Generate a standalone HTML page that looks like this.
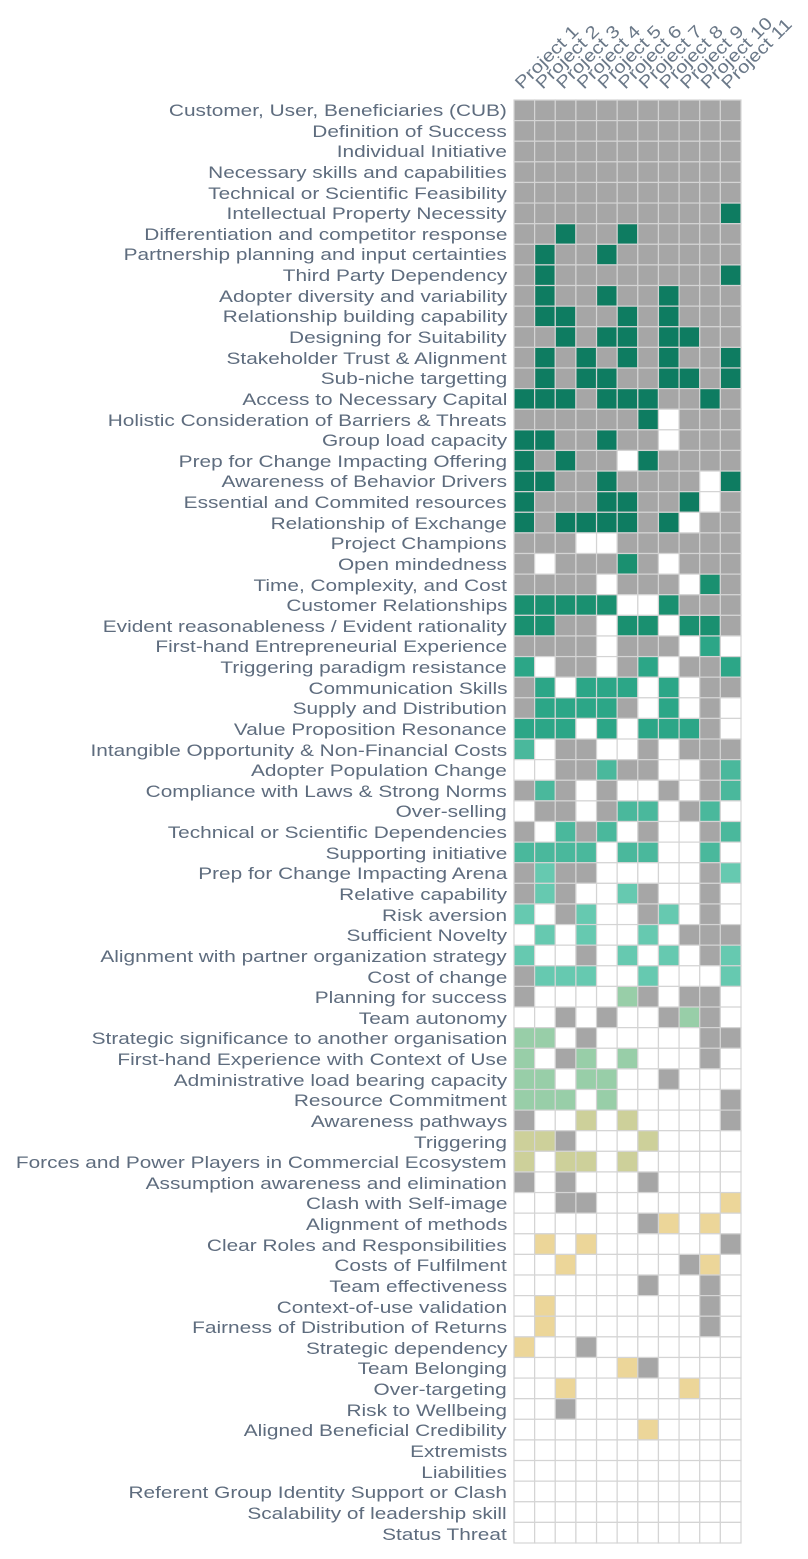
<!DOCTYPE html>
<html><head><meta charset="utf-8"><style>
html,body{margin:0;padding:0;background:#fff;}
body{width:808px;height:1559px;position:relative;overflow:hidden;font-family:"Liberation Sans",sans-serif;}
.lab{position:absolute;right:301px;height:20.63px;line-height:21.5px;font-size:17px;color:#5e6c7e;white-space:nowrap;transform:scaleX(1.225);transform-origin:right center;}
svg{position:absolute;left:0;top:0;}
</style></head><body>
<svg id="g" width="808" height="1559" xmlns="http://www.w3.org/2000/svg">
<g font-family="Liberation Sans, sans-serif" font-size="17.5" fill="#6a7888">
<text transform="translate(522,90) rotate(-45) scale(1.18,1)">Project 1</text>
<text transform="translate(542.6,90) rotate(-45) scale(1.18,1)">Project 2</text>
<text transform="translate(563.3,90) rotate(-45) scale(1.18,1)">Project 3</text>
<text transform="translate(583.9,90) rotate(-45) scale(1.18,1)">Project 4</text>
<text transform="translate(604.6,90) rotate(-45) scale(1.18,1)">Project 5</text>
<text transform="translate(625.2,90) rotate(-45) scale(1.18,1)">Project 6</text>
<text transform="translate(645.8,90) rotate(-45) scale(1.18,1)">Project 7</text>
<text transform="translate(666.5,90) rotate(-45) scale(1.18,1)">Project 8</text>
<text transform="translate(687.1,90) rotate(-45) scale(1.18,1)">Project 9</text>
<text transform="translate(707.8,90) rotate(-45) scale(1.18,1)">Project 10</text>
<text transform="translate(728.4,90) rotate(-45) scale(1.18,1)">Project 11</text>
</g>
<g id="cells"></g>
</svg>
<div id="labels">
<div class="lab" style="top:100px">Customer, User, Beneficiaries (CUB)</div>
<div class="lab" style="top:120.6px">Definition of Success</div>
<div class="lab" style="top:141.3px">Individual Initiative</div>
<div class="lab" style="top:161.9px">Necessary skills and capabilities</div>
<div class="lab" style="top:182.5px">Technical or Scientific Feasibility</div>
<div class="lab" style="top:203.2px">Intellectual Property Necessity</div>
<div class="lab" style="top:223.8px">Differentiation and competitor response</div>
<div class="lab" style="top:244.4px">Partnership planning and input certainties</div>
<div class="lab" style="top:265px">Third Party Dependency</div>
<div class="lab" style="top:285.7px">Adopter diversity and variability</div>
<div class="lab" style="top:306.3px">Relationship building capability</div>
<div class="lab" style="top:326.9px">Designing for Suitability</div>
<div class="lab" style="top:347.6px">Stakeholder Trust &amp; Alignment</div>
<div class="lab" style="top:368.2px">Sub-niche targetting</div>
<div class="lab" style="top:388.8px">Access to Necessary Capital</div>
<div class="lab" style="top:409.5px">Holistic Consideration of Barriers &amp; Threats</div>
<div class="lab" style="top:430.1px">Group load capacity</div>
<div class="lab" style="top:450.7px">Prep for Change Impacting Offering</div>
<div class="lab" style="top:471.3px">Awareness of Behavior Drivers</div>
<div class="lab" style="top:492px">Essential and Commited resources</div>
<div class="lab" style="top:512.6px">Relationship of Exchange</div>
<div class="lab" style="top:533.2px">Project Champions</div>
<div class="lab" style="top:553.9px">Open mindedness</div>
<div class="lab" style="top:574.5px">Time, Complexity, and Cost</div>
<div class="lab" style="top:595.1px">Customer Relationships</div>
<div class="lab" style="top:615.8px">Evident reasonableness / Evident rationality</div>
<div class="lab" style="top:636.4px">First-hand Entrepreneurial Experience</div>
<div class="lab" style="top:657px">Triggering paradigm resistance</div>
<div class="lab" style="top:677.6px">Communication Skills</div>
<div class="lab" style="top:698.3px">Supply and Distribution</div>
<div class="lab" style="top:718.9px">Value Proposition Resonance</div>
<div class="lab" style="top:739.5px">Intangible Opportunity &amp; Non-Financial Costs</div>
<div class="lab" style="top:760.2px">Adopter Population Change</div>
<div class="lab" style="top:780.8px">Compliance with Laws &amp; Strong Norms</div>
<div class="lab" style="top:801.4px">Over-selling</div>
<div class="lab" style="top:822.1px">Technical or Scientific Dependencies</div>
<div class="lab" style="top:842.7px">Supporting initiative</div>
<div class="lab" style="top:863.3px">Prep for Change Impacting Arena</div>
<div class="lab" style="top:883.9px">Relative capability</div>
<div class="lab" style="top:904.6px">Risk aversion</div>
<div class="lab" style="top:925.2px">Sufficient Novelty</div>
<div class="lab" style="top:945.8px">Alignment with partner organization strategy</div>
<div class="lab" style="top:966.5px">Cost of change</div>
<div class="lab" style="top:987.1px">Planning for success</div>
<div class="lab" style="top:1007.7px">Team autonomy</div>
<div class="lab" style="top:1028.4px">Strategic significance to another organisation</div>
<div class="lab" style="top:1049px">First-hand Experience with Context of Use</div>
<div class="lab" style="top:1069.6px">Administrative load bearing capacity</div>
<div class="lab" style="top:1090.2px">Resource Commitment</div>
<div class="lab" style="top:1110.9px">Awareness pathways</div>
<div class="lab" style="top:1131.5px">Triggering</div>
<div class="lab" style="top:1152.1px">Forces and Power Players in Commercial Ecosystem</div>
<div class="lab" style="top:1172.8px">Assumption awareness and elimination</div>
<div class="lab" style="top:1193.4px">Clash with Self-image</div>
<div class="lab" style="top:1214px">Alignment of methods</div>
<div class="lab" style="top:1234.7px">Clear Roles and Responsibilities</div>
<div class="lab" style="top:1255.3px">Costs of Fulfilment</div>
<div class="lab" style="top:1275.9px">Team effectiveness</div>
<div class="lab" style="top:1296.5px">Context-of-use validation</div>
<div class="lab" style="top:1317.2px">Fairness of Distribution of Returns</div>
<div class="lab" style="top:1337.8px">Strategic dependency</div>
<div class="lab" style="top:1358.4px">Team Belonging</div>
<div class="lab" style="top:1379.1px">Over-targeting</div>
<div class="lab" style="top:1399.7px">Risk to Wellbeing</div>
<div class="lab" style="top:1420.3px">Aligned Beneficial Credibility</div>
<div class="lab" style="top:1441px">Extremists</div>
<div class="lab" style="top:1461.6px">Liabilities</div>
<div class="lab" style="top:1482.2px">Referent Group Identity Support or Clash</div>
<div class="lab" style="top:1502.8px">Scalability of leadership skill</div>
<div class="lab" style="top:1523.5px">Status Threat</div>
</div>
<script>
var rows=[
"GGGGGGGGGGG","GGGGGGGGGGG","GGGGGGGGGGG","GGGGGGGGGGG","GGGGGGGGGGG",
"GGGGGGGGGGD","GGDGGDGGGGG","GDGGDGGGGGG","GDGGGGGGGGD","GDGGDGGDGGG",
"GDDGGDGDGGG","GGDGDDGDDGG","GDGDGDGDGGD","GDGDDGGDDGD","DDDGDDDGGDG",
"GGGGGGDWGGG","DDGGDGGWGGG","DGDGGWDGGGG","DDGGDGGGGWD","DGGGDDGGDWG",
"DGDDDDGDWGG","GGGWWGGGGGG","GWGGGMGWGGG","GGGGWGGGWMG","MMMMMWWMGGG",
"MMGGWMMWMMG","GGGGWGGGWLW","LWGGWGLWGGL","GLWLLLWLWGG","GLLLLGWLWGW",
"LLLWLWLLLGW","TWGGWWGWGGG","WWGGTGGWWGT","GTGWGWWGWGT","WGGWGTTWGTW",
"GWTGTWGWWGT","TTTTWTTWWTW","GUGGWWWWWGU","GUGWWUGWWGW","UWGUWWGUWGW",
"WUWUWWUWGGG","UWWGWUWUWGU","GUUUWWUWWWU","GWWWWPGWGGW","WWGWGWWGPGW",
"PPWGWWWWWGG","PWGPWPWWWGW","PPWPPWWGWWW","PPPWPWWWWWG","GWWYWYWWWWG",
"YYGWWWYWWWW","YWYYWYWWWWW","GWGWWWGWWWW","WWGGWWWWWWO","WWWWWWGOWOW",
"WOWOWWWWWWG","WWOWWWWWGOW","WWWWWWGWWGW","WOWWWWWWWGW","WOWWWWWWWGW",
"OWWGWWWWWWW","WWWWWOGWWWW","WWOWWWWWOWW","WWGWWWWWWWW","WWWWWWOWWWW",
"WWWWWWWWWWW","WWWWWWWWWWW","WWWWWWWWWWW","WWWWWWWWWWW","WWWWWWWWWWW"];
var col={G:"#a6a6a6",D:"#0e7c61",M:"#1a9070",L:"#2ca687",T:"#4ab89c",U:"#66c9b0",P:"#98cea8",Y:"#cdd09a",O:"#ecd699",W:"#ffffff"};
var s="",x0=514,y0=100,cw=227/11,ch=1443/70;
for(var r=0;r<rows.length;r++)for(var c=0;c<11;c++){
s+='<rect x="'+(x0+c*cw).toFixed(2)+'" y="'+(y0+r*ch).toFixed(2)+'" width="'+cw.toFixed(2)+'" height="'+ch.toFixed(2)+'" fill="'+col[rows[r][c]]+'" stroke="#d4d4d4" stroke-width="1.2"/>';}
document.getElementById("cells").innerHTML=s;
</script>
</body></html>
